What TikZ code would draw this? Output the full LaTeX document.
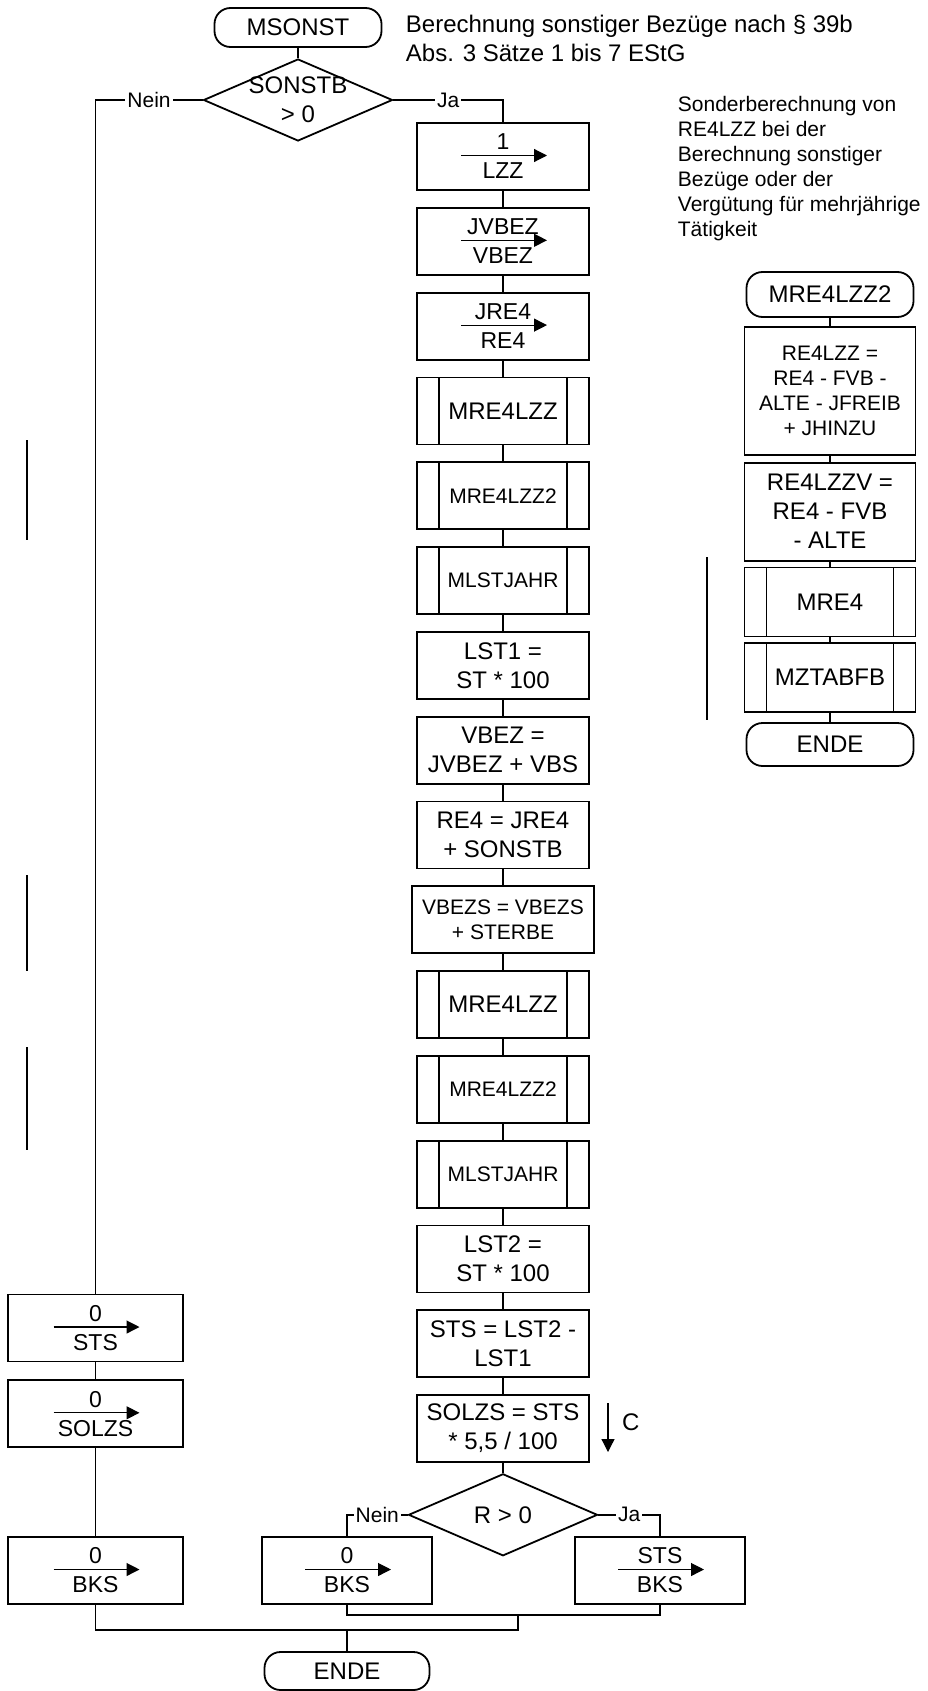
\documentclass[tikz,border=0pt]{standalone}
\usepackage{fontspec}
\setmainfont{Liberation Sans}
\usetikzlibrary{positioning}
\usetikzlibrary{shapes,arrows.meta}
\usetikzlibrary{calc}

\begin{document}
\begin{tikzpicture}[x=1pt, y=1pt,
	line width=1.8pt,
	every node/.style = {font=\fontsize{24}{29}\selectfont},
	box/.style = {draw, rectangle, align=center, minimum width=172pt,
		minimum height=67pt, inner sep=2pt},
	small/.style = {font=\fontsize{21}{25}\selectfont},
	sub/.style = {box, path picture={
			\draw ([xshift=22pt]path picture bounding box.north west)
			-- ([xshift=22pt]path picture bounding box.south west);
			\draw ([xshift=-22pt]path picture bounding box.north east)
			-- ([xshift=-22pt]path picture bounding box.south east);}},
	assign/.style = {box, font=\fontsize{23}{29}\selectfont, path picture={
			\draw [line width=1.2pt, -{Triangle[length=13pt, width=13pt]}]
			([xshift=-42pt, yshift=1pt]path picture bounding box.center)
			-- ([xshift=44pt, yshift=1pt]path picture bounding box.center);}},
	term/.style = {draw, rectangle, rounded corners=16pt,
		minimum width=167pt, minimum height=39pt, inner sep=2pt},
	decision/.style = {draw, diamond, aspect=2.3, minimum width=189pt,
		minimum height=82pt, inner sep=0pt, align=center},
	lbl/.style = {fill=white, inner sep=2pt, font=\fontsize{21}{25}\selectfont}
	]
	\useasboundingbox (0,0) rectangle (928,-1691);

	% Hauptablauf
	\node (start) [term] at (298,-27.5) {MSONST};
	\node (d1) [decision, inner sep=-12pt] at (298,-100) {SONSTB\\> 0};
	\node (info1) [anchor=north west, inner sep=0pt, align=left] at (405,-14)
		{Berechnung sonstiger Bezüge nach § 39b\\Abs. 3 Sätze 1 bis 7 EStG};

	\node (a1) [assign] at (503,-156.5) {1\\LZZ};
	\node (a2) [assign, below=16pt of a1] {JVBEZ\\VBEZ};
	\node (a3) [assign, below=16pt of a2] {JRE4\\RE4};
	\node (a4) [sub, below=16pt of a3] {MRE4LZZ};
	\node (a5) [sub, small, below=16pt of a4] {MRE4LZZ2};
	\node (a6) [sub, small, below=16pt of a5] {MLSTJAHR};
	\node (a7) [box, below=16pt of a6] {LST1 =\\ST * 100};
	\node (a8) [box, below=16pt of a7] {VBEZ =\\JVBEZ + VBS};
	\node (a9) [box, below=16pt of a8] {RE4 = JRE4\\+ SONSTB};
	\node (a10) [box, small, minimum width=182pt, below=16pt of a9] {VBEZS = VBEZS\\+ STERBE};
	\node (a11) [sub, below=16pt of a10] {MRE4LZZ};
	\node (a12) [sub, small, below=16pt of a11] {MRE4LZZ2};
	\node (a13) [sub, small, below=16pt of a12] {MLSTJAHR};
	\node (a14) [box, below=16pt of a13] {LST2 =\\ST * 100};
	\node (a15) [box, below=16pt of a14] {STS = LST2 -\\LST1};
	\node (a16) [box, below=16pt of a15] {SOLZS = STS\\* 5,5 / 100};
	\node (d2) [decision, below=10pt of a16] {R > 0};

	\node (b1) [assign, minimum width=170pt] at (347,-1570.5) {0\\BKS};
	\node (b2) [assign, minimum width=170pt] at (660,-1570.5) {STS\\BKS};

	% Nein-Zweig
	\node (n1) [assign, minimum width=175pt] at (95.5,-1328) {0\\STS};
	\node (n2) [assign, minimum width=175pt, below=17pt of n1] {0\\SOLZS};
	\node (n3) [assign, minimum width=175pt] at (95.5,-1570.5) {0\\BKS};

	\node (e1) [term, minimum width=165pt, minimum height=38pt] at (347,-1671) {ENDE};

	% MRE4LZZ2
	\node (info2) [anchor=north west, inner sep=0pt, align=left, small] at (677,-95)
		{Sonderberechnung von\\RE4LZZ bei der\\Berechnung sonstiger\\Bezüge oder der\\Vergütung für mehrjährige\\Tätigkeit};
	\node (r0) [term, minimum height=45pt] at (830,-294.5) {MRE4LZZ2};
	\node (r1) [box, small, minimum width=171pt, minimum height=128pt, below=8pt of r0]
		{RE4LZZ =\\RE4 - FVB -\\ALTE - JFREIB\\+ JHINZU};
	\node (r2) [box, minimum width=171pt, minimum height=98pt, below=6pt of r1]
		{RE4LZZV =\\RE4 - FVB\\- ALTE};
	\node (r3) [sub, minimum width=171pt, minimum height=69pt, below=5pt of r2] {MRE4};
	\node (r4) [sub, minimum width=171pt, minimum height=69pt, below=5pt of r3] {MZTABFB};
	\node (r5) [term, minimum height=43pt, below=9pt of r4] {ENDE};

	\path
	(start) edge (d1)
	(a1) edge (a2)
	(a2) edge (a3)
	(a3) edge (a4)
	(a4) edge (a5)
	(a5) edge (a6)
	(a6) edge (a7)
	(a7) edge (a8)
	(a8) edge (a9)
	(a9) edge (a10)
	(a10) edge (a11)
	(a11) edge (a12)
	(a12) edge (a13)
	(a13) edge (a14)
	(a14) edge (a15)
	(a15) edge (a16)
	(a16) edge (d2)
	(n1) edge (n2)
	(n2) edge (n3)
	(r0) edge (r1)
	(r1) edge (r2)
	(r2) edge (r3)
	(r3) edge (r4)
	(r4) edge (r5);

	\draw (d1.west) -| node[lbl, pos=.25] (no1) {Nein} (n1.north);
	\draw (d1.east) -| node[lbl, pos=.25] (ja1) {Ja} (a1.north);
	\draw (d2.west) -| node[lbl, pos=.25] (no2) {Nein} (b1.north);
	\draw (d2.east) -| node[lbl, pos=.25] (ja2) {Ja} (b2.north);

	% Zusammenfuehrung
	\coordinate (j1) at (518,-1615);
	\coordinate (j2) at (518,-1630);
	\draw (b1.south) |- (j1) -| (b2.south);
	\draw (n3.south) |- (j2) -- (j1);
	\draw (e1.north) -- (e1.north |- j2);

	% C
	\coordinate (c1) at (608,-1403);
	\coordinate (c2) at (608,-1452);
	\draw [line width=1.2pt, -{Triangle[length=13pt, width=13pt]}] (c1) -- (c2);
	\node (clab) [anchor=west] at (618,-1422) {C};

	% Randlinien
	\draw (27,-440) -- (27,-540);
	\draw (27,-875) -- (27,-971);
	\draw (27,-1047) -- (27,-1150);
	\draw (707,-557) -- (707,-720);
\end{tikzpicture}
\end{document}
